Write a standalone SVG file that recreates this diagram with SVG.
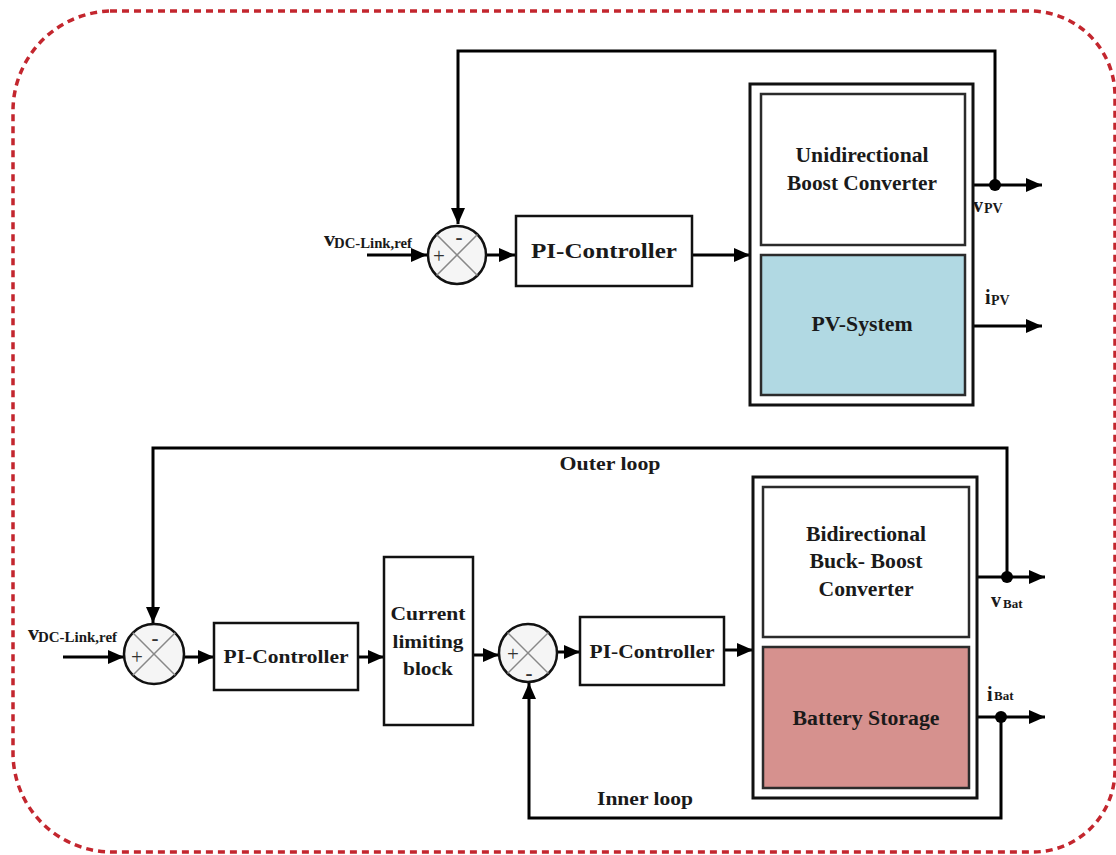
<svg xmlns="http://www.w3.org/2000/svg" width="1116" height="855" viewBox="0 0 1116 855">
<defs>
<marker id="ah" markerUnits="userSpaceOnUse" markerWidth="16" markerHeight="14" refX="16" refY="7" orient="auto">
<path d="M0,0 L16,7 L0,14 z" fill="#000"/>
</marker>
</defs>
<style>
.t{font-family:"Liberation Serif","Times New Roman",serif;font-weight:bold;fill:#1a1a1a}
.box{fill:#fff;stroke:#111;stroke-width:2.5}
.outer{fill:#fff;stroke:#111;stroke-width:3}
.inner{stroke:#2b2b2b;stroke-width:2.5}
.ln{fill:none;stroke:#000;stroke-width:3}
.sum{fill:#f5f5f5;stroke:#111;stroke-width:2.5}
.x{stroke:#888;stroke-width:1.5}
.sg{font-family:"Liberation Serif",serif;font-size:21px;fill:#333}
</style>
<rect width="1116" height="855" fill="#fff"/>
<path d="M110,11 H1030 A85,85 0 0 1 1115,96 V770 A82,82 0 0 1 1033,852 H112 A99,99 0 0 1 13,753 V111 A100,100 0 0 1 110,11 Z" fill="none" stroke="#c3262e" stroke-width="3.5" stroke-dasharray="7,5"/>

<g id="connectors">
<path class="ln" d="M995,185 V51 H458 V224" marker-end="url(#ah)"/>
<path class="ln" d="M367,255 H427" marker-end="url(#ah)"/>
<path class="ln" d="M486,255 H515" marker-end="url(#ah)"/>
<path class="ln" d="M692,255 H750" marker-end="url(#ah)"/>
<path class="ln" d="M973,185 H1042" marker-end="url(#ah)"/>
<path class="ln" d="M973,326 H1042" marker-end="url(#ah)"/>
<circle cx="995" cy="185" r="6" fill="#000"/>

<path class="ln" d="M1007,577 V448 H153 V623" marker-end="url(#ah)"/>
<path class="ln" d="M63,657 H124" marker-end="url(#ah)"/>
<path class="ln" d="M184,657 H214" marker-end="url(#ah)"/>
<path class="ln" d="M358,657 H384" marker-end="url(#ah)"/>
<path class="ln" d="M473,655 H499" marker-end="url(#ah)"/>
<path class="ln" d="M557,652 H580" marker-end="url(#ah)"/>
<path class="ln" d="M724,650 H753" marker-end="url(#ah)"/>
<path class="ln" d="M977,577 H1045" marker-end="url(#ah)"/>
<path class="ln" d="M977,717 H1045" marker-end="url(#ah)"/>
<path class="ln" d="M1001,717 V818 H529 V683" marker-end="url(#ah)"/>
<circle cx="1007" cy="577" r="6" fill="#000"/>
<circle cx="1001" cy="717" r="6" fill="#000"/>
</g>

<g id="label-vdc-top">
<text class="t" x="324" y="246" font-size="22">v</text>
<text class="t" x="334" y="248" font-size="14.5" textLength="78" lengthAdjust="spacingAndGlyphs">DC-Link,ref</text>
</g>
<g id="sum-top">
<circle class="sum" cx="457" cy="255" r="29"/>
<line class="x" x1="436.5" y1="234.5" x2="477.5" y2="275.5"/>
<line class="x" x1="477.5" y1="234.5" x2="436.5" y2="275.5"/>
<text class="sg" x="439" y="263" text-anchor="middle">+</text>
<text class="sg" x="459" y="244" text-anchor="middle" font-weight="bold">-</text>
</g>
<g id="pi-top">
<rect class="box" x="516" y="216" width="176" height="70"/>
<text class="t" x="604" y="258" font-size="21" text-anchor="middle" textLength="146" lengthAdjust="spacingAndGlyphs">PI-Controller</text>
</g>
<g id="pv-unit">
<rect class="outer" x="750" y="84" width="223" height="321"/>
<rect class="inner" x="761" y="94" width="204" height="151" fill="#fff"/>
<text class="t" x="862" y="162" font-size="20" text-anchor="middle" textLength="133" lengthAdjust="spacingAndGlyphs">Unidirectional</text>
<text class="t" x="862" y="190" font-size="20" text-anchor="middle" textLength="150" lengthAdjust="spacingAndGlyphs">Boost Converter</text>
<rect class="inner" x="761" y="255" width="204" height="140" fill="#b1d9e3"/>
<text class="t" x="862" y="331" font-size="20" text-anchor="middle" textLength="101" lengthAdjust="spacingAndGlyphs">PV-System</text>
</g>
<g id="label-vpv">
<text class="t" x="973" y="212" font-size="20">v</text>
<text class="t" x="984" y="213" font-size="14">PV</text>
</g>
<g id="label-ipv">
<text class="t" x="985" y="304" font-size="20">i</text>
<text class="t" x="991" y="305" font-size="14">PV</text>
</g>

<g id="label-outer-loop">
<text class="t" x="610" y="470" font-size="19" text-anchor="middle" textLength="101" lengthAdjust="spacingAndGlyphs">Outer loop</text>
</g>
<g id="label-vdc-bottom">
<text class="t" x="28" y="640" font-size="22">v</text>
<text class="t" x="38" y="642" font-size="14.5" textLength="79" lengthAdjust="spacingAndGlyphs">DC-Link,ref</text>
</g>
<g id="sum-outer">
<circle class="sum" cx="154" cy="654" r="30"/>
<line class="x" x1="132.8" y1="632.8" x2="175.2" y2="675.2"/>
<line class="x" x1="175.2" y1="632.8" x2="132.8" y2="675.2"/>
<text class="sg" x="137" y="664" text-anchor="middle">+</text>
<text class="sg" x="155" y="645" text-anchor="middle" font-weight="bold">-</text>
</g>
<g id="pi-outer">
<rect class="box" x="214" y="623" width="144" height="67"/>
<text class="t" x="286" y="663" font-size="19" text-anchor="middle" textLength="125" lengthAdjust="spacingAndGlyphs">PI-Controller</text>
</g>
<g id="current-limit">
<rect class="box" x="384" y="557" width="89" height="168" stroke-width="3"/>
<text class="t" x="428" y="620" font-size="19" text-anchor="middle" textLength="75" lengthAdjust="spacingAndGlyphs">Current</text>
<text class="t" x="428" y="648" font-size="19" text-anchor="middle" textLength="71" lengthAdjust="spacingAndGlyphs">limiting</text>
<text class="t" x="428" y="675" font-size="19" text-anchor="middle" textLength="50" lengthAdjust="spacingAndGlyphs">block</text>
</g>
<g id="sum-inner">
<circle class="sum" cx="528" cy="653" r="29"/>
<line class="x" x1="507.5" y1="632.5" x2="548.5" y2="673.5"/>
<line class="x" x1="548.5" y1="632.5" x2="507.5" y2="673.5"/>
<text class="sg" x="513" y="661" text-anchor="middle">+</text>
<text class="sg" x="529" y="680" text-anchor="middle" font-weight="bold">-</text>
</g>
<g id="pi-inner">
<rect class="box" x="580" y="617" width="144" height="68"/>
<text class="t" x="652" y="658" font-size="19" text-anchor="middle" textLength="125" lengthAdjust="spacingAndGlyphs">PI-Controller</text>
</g>
<g id="battery-unit">
<rect class="outer" x="753" y="477" width="224" height="321"/>
<rect class="inner" x="763" y="487" width="206" height="150" fill="#fff"/>
<text class="t" x="866" y="541" font-size="20" text-anchor="middle" textLength="120" lengthAdjust="spacingAndGlyphs">Bidirectional</text>
<text class="t" x="866" y="568" font-size="20" text-anchor="middle" textLength="113" lengthAdjust="spacingAndGlyphs">Buck- Boost</text>
<text class="t" x="866" y="596" font-size="20" text-anchor="middle" textLength="95" lengthAdjust="spacingAndGlyphs">Converter</text>
<rect class="inner" x="763" y="647" width="206" height="141" fill="#d6918e"/>
<text class="t" x="866" y="725" font-size="20" text-anchor="middle" textLength="147" lengthAdjust="spacingAndGlyphs">Battery Storage</text>
</g>
<g id="label-vbat">
<text class="t" x="991" y="607" font-size="20">v</text>
<text class="t" x="1003" y="608" font-size="13">Bat</text>
</g>
<g id="label-ibat">
<text class="t" x="987" y="701" font-size="20">i</text>
<text class="t" x="994" y="700" font-size="13">Bat</text>
</g>
<g id="label-inner-loop">
<text class="t" x="645" y="805" font-size="19" text-anchor="middle" textLength="96" lengthAdjust="spacingAndGlyphs">Inner loop</text>
</g>
</svg>
